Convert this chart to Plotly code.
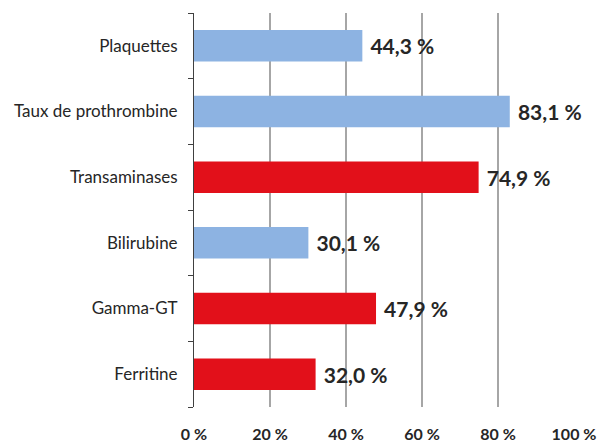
import plotly.graph_objects as go

categories = ["Plaquettes", "Taux de prothrombine", "Transaminases", "Bilirubine", "Gamma-GT", "Ferritine"]
values = [44.3, 83.1, 74.9, 30.1, 47.9, 32.0]
colors = ["#8DB3E2", "#8DB3E2", "#E2101A", "#8DB3E2", "#E2101A", "#E2101A"]
labels = ["44,3 %", "83,1 %", "74,9 %", "30,1 %", "47,9 %", "32,0 %"]
tick_vals = [0, 20, 40, 60, 80, 100]
tick_text = ["0 %", "20 %", "40 %", "60 %", "80 %", "100 %"]

FONT = "Lato"

fig = go.Figure(go.Bar(
    y=categories, x=values, orientation="h",
    marker=dict(color=colors, line=dict(width=0)),
    width=0.48,
    text=labels, textposition="outside", cliponaxis=False,
    textfont=dict(family=FONT, size=21, color="#262626", weight="bold"),
))
fig.update_traces(texttemplate=" %{text}")

fig.update_layout(
    width=598, height=443,
    margin=dict(l=194, r=24, t=13, b=36),
    plot_bgcolor="white", paper_bgcolor="white",
    showlegend=False,
    xaxis=dict(range=[0, 100], tickvals=tick_vals, ticktext=tick_text,
               showgrid=True, gridcolor="#A6A6A6", gridwidth=1.5,
               zeroline=False, showline=False, ticks="",
               ticklabelstandoff=16, automargin=False,
               tickfont=dict(family=FONT, size=16, color="#262626", weight="bold")),
    yaxis=dict(categoryorder="array", categoryarray=categories[::-1],
               showline=True, linecolor="#404040", linewidth=1,
               ticks="outside", tickson="boundaries", ticklen=5, tickcolor="#404040",
               showgrid=False, ticklabelstandoff=12, automargin=False,
               tickfont=dict(family=FONT, size=17, color="#262626")),
)

fig.write_html("out.html", config={"displayModeBar": False},
               post_script="document.body.style.margin='0';")
